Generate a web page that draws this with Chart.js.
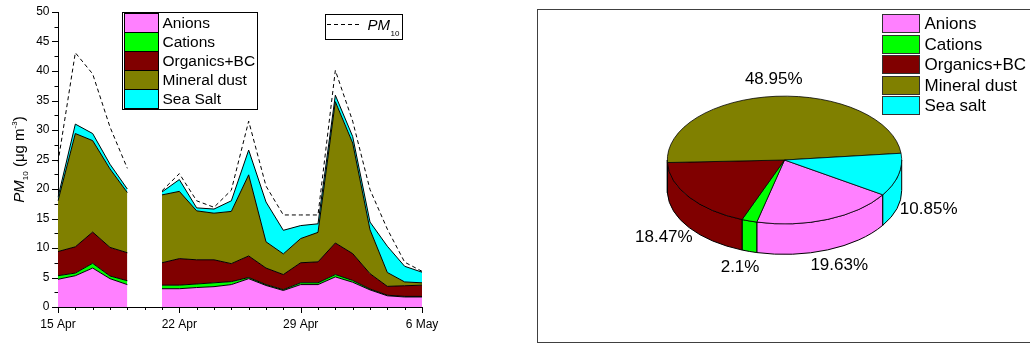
<!DOCTYPE html>
<html>
<head>
<meta charset="utf-8">
<script src="https://cdn.jsdelivr.net/npm/chart.js@4/dist/chart.umd.min.js"></script>
<style>
  html, body { margin: 0; padding: 0; background: #fff; }
  #wrap { position: relative; width: 1030px; height: 344px; overflow: hidden; }
  #series { position: absolute; left: 0; top: 0; }
  #shares { position: absolute; left: 535px; top: 0; }
</style>
</head>
<body>
<div id="wrap">
  <canvas id="series" width="535" height="344"></canvas>
  <canvas id="shares" width="495" height="344"></canvas>
</div>
<script>
// ---- daily composition of PM10 (µg m-3), 15 Apr - 6 May; 20 Apr missing ----
const days = ['15 Apr','16 Apr','17 Apr','18 Apr','19 Apr','20 Apr','21 Apr','22 Apr','23 Apr','24 Apr','25 Apr',
              '26 Apr','27 Apr','28 Apr','29 Apr','30 Apr','1 May','2 May','3 May','4 May','5 May','6 May'];
const dateTicks = ['15 Apr', '22 Apr', '29 Apr', '6 May'];

const anions      = [4.7, 5.3, 6.6, 4.8, 3.8, null, 3.1, 3.1, 3.3, 3.45, 3.8, 4.8, 3.65, 2.8, 3.8, 3.8, 5.1, 4.2, 2.9, 1.9, 1.7, 1.7];
const cations     = [0.6, 0.45, 0.8, 0.45, 0.65, null, 0.6, 0.6, 0.6, 0.65, 0.5, 0.2, 0.15, 0.15, 0.3, 0.3, 0.4, 0.3, 0.15, 0.1, 0.1, 0.1];
const organics    = [4.1, 4.45, 5.3, 4.85, 4.75, null, 3.8, 4.5, 4.1, 3.9, 3.05, 3.65, 2.8, 2.55, 3.4, 3.55, 5.35, 4.55, 2.6, 1.5, 1.8, 1.9];
const mineralDust = [8.6, 19.2, 15.5, 13.3, 10.2, null, 11.5, 11.4, 8.3, 7.9, 8.85, 13.75, 4.45, 3.5, 4.1, 5.0, 23.95, 18.75, 7.45, 2.35, 0.65, 0.4];
const seaSalt     = [0.6, 1.6, 1.2, 0.8, 0.6, null, 0.5, 2.0, 0.5, 0.7, 1.8, 4.2, 6.75, 4.0, 2.2, 1.45, 1.1, 1.1, 1.3, 4.45, 2.65, 1.8];
const pm10        = [24.5, 43.1, 39.5, 30.5, 23.5, null, 19.7, 22.6, 18.0, 16.9, 19.8, 31.5, 20.5, 15.6, 15.6, 15.6, 40.1, 31.5, 19.9, 13.2, 7.6, 6.05];
const pmTicks     = [0, 5, 10, 15, 20, 25, 30, 35, 40, 45, 50];

// ---- campaign-average mass shares (%) ----
const shareLabels = ['Anions', 'Cations', 'Organics+BC', 'Mineral dust', 'Sea salt'];
const shareValues = [19.63, 2.1, 18.47, 48.95, 10.85];

const speciesNames  = ['Anions', 'Cations', 'Organics+BC', 'Mineral dust', 'Sea Salt'];
const speciesColors = ['#ff80ff', '#00ff00', '#800000', '#808000', '#00ffff'];

const FONT = "'Liberation Sans', Arial, Helvetica, sans-serif";
Chart.defaults.font.family = FONT;
Chart.defaults.color = '#000';

// ---------- stacked area chart ----------
const layers = [anions, cations, organics, mineralDust, seaSalt];
const datasets = layers.map((d, i) => ({
  label: speciesNames[i],
  data: d,
  stack: 'species',
  fill: i === 0 ? 'origin' : '-1',
  backgroundColor: speciesColors[i],
  borderColor: '#000',
  borderWidth: 1,
  pointRadius: 0,
  tension: 0,
  spanGaps: false
}));
datasets.push({
  label: 'PM10',
  data: pm10,
  stack: 'total',
  fill: false,
  borderColor: '#000',
  borderWidth: 1,
  borderDash: [4, 3],
  pointRadius: 0,
  tension: 0,
  spanGaps: false,
  order: -1
});

// outward tick marks: long at labelled values, short in between
const tickMarks = {
  id: 'tickMarks',
  afterDraw(chart) {
    const { ctx, chartArea: { left, bottom }, scales: { x, y } } = chart;
    ctx.save();
    ctx.strokeStyle = '#000';
    ctx.lineWidth = 1;
    ctx.beginPath();
    const step = pmTicks[1] - pmTicks[0];
    for (let v = pmTicks[0]; v <= pmTicks[pmTicks.length - 1] + 1e-9; v += step / 2) {
      const py = Math.round(y.getPixelForValue(v)) + 0.5;
      const len = pmTicks.includes(v) ? 6 : 3.5;
      ctx.moveTo(left - len, py); ctx.lineTo(left, py);
    }
    days.forEach((d, i) => {
      const px = Math.round(x.getPixelForValue(i)) + 0.5;
      const len = dateTicks.includes(d) ? 6 : 3;
      ctx.moveTo(px, bottom); ctx.lineTo(px, bottom + len);
    });
    ctx.stroke();
    ctx.restore();
  }
};

// axis title with italic PM, subscript 10 and superscript -3
const yTitle = {
  id: 'yTitle',
  afterDraw(chart) {
    const ctx = chart.ctx;
    const { top, bottom } = chart.chartArea;
    const parts = [
      { t: 'PM', f: 'italic 15px ' + FONT, dy: 0 },
      { t: '10', f: '8px ' + FONT, dy: 4 },
      { t: ' (μg m', f: '15px ' + FONT, dy: 0 },
      { t: '-3', f: '8px ' + FONT, dy: -7 },
      { t: ')', f: '15px ' + FONT, dy: 0 }
    ];
    ctx.save();
    ctx.translate(24, (top + bottom) / 2);
    ctx.rotate(-Math.PI / 2);
    let w = 0;
    parts.forEach(p => { ctx.font = p.f; p.w = ctx.measureText(p.t).width; w += p.w; });
    let x = -w / 2;
    ctx.fillStyle = '#000';
    ctx.textBaseline = 'alphabetic';
    parts.forEach(p => { ctx.font = p.f; ctx.fillText(p.t, x, p.dy); x += p.w; });
    ctx.restore();
  }
};

// boxed legends: species swatches and the PM10 line key
const seriesLegends = {
  id: 'seriesLegends',
  afterDraw(chart) {
    const ctx = chart.ctx;
    ctx.save();
    ctx.lineWidth = 1;
    ctx.strokeStyle = '#000';
    ctx.fillStyle = '#fff';
    ctx.fillRect(122.5, 12.5, 135, 97);
    ctx.strokeRect(122.5, 12.5, 135, 97);
    ctx.font = '15.5px ' + FONT;
    ctx.textBaseline = 'middle';
    speciesNames.forEach((n, i) => {
      const y0 = Math.round(13 + i * 19.1) + 0.5;
      ctx.fillStyle = speciesColors[i];
      ctx.fillRect(124.5, y0, 34, 19);
      ctx.strokeRect(124.5, y0, 34, 19);
      ctx.fillStyle = '#000';
      ctx.fillText(n, 162.5, y0 + 10);
    });

    ctx.fillStyle = '#fff';
    ctx.fillRect(325.5, 14.5, 77, 25);
    ctx.strokeRect(325.5, 14.5, 77, 25);
    ctx.setLineDash([4, 3]);
    ctx.beginPath();
    ctx.moveTo(327, 24.5); ctx.lineTo(361, 24.5);
    ctx.stroke();
    ctx.setLineDash([]);
    ctx.fillStyle = '#000';
    ctx.textBaseline = 'alphabetic';
    ctx.font = 'italic 15px ' + FONT;
    ctx.fillText('PM', 367.5, 30);
    const pw = ctx.measureText('PM').width;
    ctx.font = '8px ' + FONT;
    ctx.fillText('10', 367.5 + pw + 0.5, 35.5);
    ctx.restore();
  }
};

new Chart(document.getElementById('series'), {
  type: 'line',
  data: { labels: days, datasets },
  options: {
    responsive: false,
    animation: false,
    events: [],
    layout: { padding: { top: 12, left: 0, right: 113, bottom: 0 } },
    plugins: { legend: { display: false }, tooltip: { enabled: false } },
    scales: {
      x: {
        type: 'category',
        offset: false,
        grid: { display: false, drawTicks: false },
        border: { display: true, color: '#000', width: 1 },
        ticks: {
          autoSkip: false,
          maxRotation: 0,
          padding: 10,
          font: { size: 12 },
          callback(v, i) { const l = days[i]; return dateTicks.includes(l) ? l : ''; }
        },
        afterFit(s) { s.height = 37; s.paddingLeft = 0; s.paddingRight = 0; }
      },
      y: {
        type: 'linear',
        stacked: true,
        min: pmTicks[0],
        max: pmTicks[pmTicks.length - 1],
        grid: { display: false, drawTicks: false },
        border: { display: true, color: '#000', width: 1 },
        ticks: { stepSize: pmTicks[1] - pmTicks[0], padding: 8.5, font: { size: 12 } },
        afterFit(s) { s.width = 58; s.paddingTop = 0; s.paddingBottom = 0; }
      }
    }
  },
  plugins: [tickMarks, yTitle, seriesLegends]
});

// ---------- tilted 3-D pie of mass shares ----------
const pie3d = {
  id: 'pie3d',
  beforeDatasetsDraw(chart, args, opts) {
    const ctx = chart.ctx;
    const arcs = chart.getDatasetMeta(0).data;
    const { x: cx, y: cy, outerRadius: r } = arcs[0];
    const ry = r * opts.tilt;
    const depth = opts.depth;
    ctx.save();
    ctx.lineWidth = 1;
    ctx.strokeStyle = '#000';
    ctx.lineJoin = 'round';
    // side walls of the front half (angles 0..PI, below the centre line)
    arcs.forEach(a => {
      for (let n = -1; n <= 2; n++) {
        const lo = Math.max(a.startAngle, 2 * Math.PI * n);
        const hi = Math.min(a.endAngle, 2 * Math.PI * n + Math.PI);
        if (hi <= lo) continue;
        ctx.beginPath();
        ctx.ellipse(cx, cy, r, ry, 0, lo, hi, false);
        ctx.lineTo(cx + r * Math.cos(hi), cy + depth + ry * Math.sin(hi));
        ctx.ellipse(cx, cy + depth, r, ry, 0, hi, lo, true);
        ctx.closePath();
        ctx.fillStyle = a.options.backgroundColor;
        ctx.fill();
        ctx.stroke();
      }
    });
    ctx.restore();
    // squash the top face into an ellipse
    ctx.save();
    ctx.translate(cx, cy);
    ctx.scale(1, opts.tilt);
    ctx.translate(-cx, -cy);
  },
  afterDatasetsDraw(chart, args, opts) {
    const ctx = chart.ctx;
    ctx.restore();
    const arcs = chart.getDatasetMeta(0).data;
    const values = chart.data.datasets[0].data;
    const { x: cx, y: cy, outerRadius: r } = arcs[0];
    const rr = r * opts.labelRadius;
    ctx.save();
    ctx.font = '17px ' + FONT;
    ctx.fillStyle = '#000';
    ctx.textAlign = 'center';
    ctx.textBaseline = 'middle';
    arcs.forEach((a, i) => {
      const mid = (a.startAngle + a.endAngle) / 2;
      const s = Math.sin(mid), c = Math.cos(mid);
      const x = cx + rr * c;
      const y = (s > 0 ? cy + opts.depth : cy) + rr * opts.tilt * s;
      ctx.fillText(values[i] + '%', x, y);
    });
    ctx.restore();
  },
  afterDraw(chart) {
    const ctx = chart.ctx;
    const labels = chart.data.labels;
    const colors = chart.data.datasets[0].backgroundColor;
    ctx.save();
    ctx.strokeStyle = '#404040';
    ctx.lineWidth = 1;
    ctx.strokeRect(2.5, 9.5, 520, 333);
    ctx.font = '17px ' + FONT;
    ctx.textBaseline = 'middle';
    labels.forEach((l, i) => {
      const y0 = Math.round(14 + i * 20.6) + 0.5;
      ctx.fillStyle = colors[i];
      ctx.fillRect(347.5, y0, 37, 18);
      ctx.strokeStyle = '#303030';
      ctx.strokeRect(347.5, y0, 37, 18);
      ctx.fillStyle = '#000';
      ctx.fillText(l, 389.5, y0 + 9.5);
    });
    ctx.restore();
  }
};

new Chart(document.getElementById('shares'), {
  type: 'pie',
  data: {
    labels: shareLabels,
    datasets: [{
      data: shareValues,
      backgroundColor: speciesColors,
      borderColor: '#000',
      borderWidth: 1,
      clip: false
    }]
  },
  options: {
    responsive: false,
    animation: false,
    events: [],
    rotation: 123,
    layout: { padding: { left: 131.8, right: 127.8, top: 42.3, bottom: 66.3 } },
    plugins: {
      legend: { display: false },
      tooltip: { enabled: false },
      pie3d: { tilt: 0.545, depth: 30.5, labelRadius: 1.265 }
    }
  },
  plugins: [pie3d]
});
</script>
</body>
</html>
